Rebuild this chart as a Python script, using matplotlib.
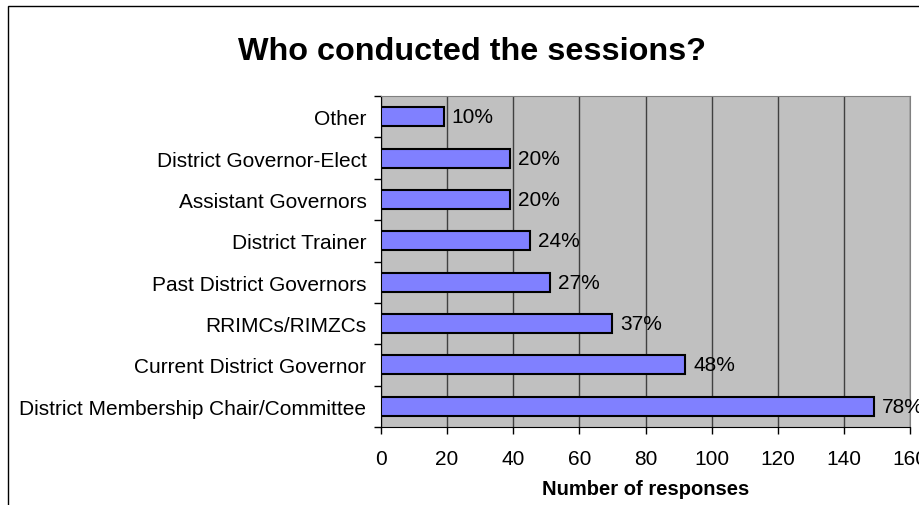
import numpy as np
import matplotlib
matplotlib.use('Agg')
import matplotlib.pyplot as plt
from matplotlib.patches import Rectangle
from matplotlib.ticker import MultipleLocator

plt.rcParams['font.family'] = ['Liberation Sans', 'DejaVu Sans']

# data, top to bottom as shown
categories = ['Other', 'District Governor-Elect', 'Assistant Governors', 'District Trainer',
              'Past District Governors', 'RRIMCs/RIMZCs', 'Current District Governor',
              'District Membership Chair/Committee']
responses = [19, 39, 39, 45, 51, 70, 92, 149]
pct_labels = ['10%', '20%', '20%', '24%', '27%', '37%', '48%', '78%']

fig = plt.figure(figsize=(9.2, 5.06), dpi=100)
ax = fig.add_axes([381 / 920, 1 - 428 / 506, 529 / 920, 331 / 506])

# outer chart border (runs off the canvas on the right and bottom)
fig.patches.append(Rectangle((8 / 920, -0.1), 1.2, 1 - 7 / 506 + 0.1, transform=fig.transFigure,
                             fill=False, edgecolor='black', linewidth=1.0))

y = np.arange(len(categories))
ax.set_facecolor('#c0c0c0')
ax.barh(y, responses, height=0.46, color='#8080ff', edgecolor='black', linewidth=1.5, zorder=3)
for yi, v, lab in zip(y, responses, pct_labels):
    ax.text(v + 2.4, yi, lab, va='center', ha='left', fontsize=15, zorder=4, clip_on=False)

ax.set_xlim(0, 160)
ax.set_ylim(len(categories) - 0.5, -0.5)
ax.xaxis.set_major_locator(MultipleLocator(20))
ax.grid(axis='x', color='#404040', linewidth=1.0, zorder=1)

ax.set_yticks(y)
ax.set_yticklabels(categories)
ax.set_yticks(np.arange(-0.5, len(categories), 1), minor=True)
ax.tick_params(axis='y', which='major', length=0, pad=10.5, labelsize=15)
ax.tick_params(axis='y', which='minor', length=5, width=1, color='black')
ax.tick_params(axis='x', length=5, width=1, pad=11, labelsize=15)

for side in ['top', 'right']:
    ax.spines[side].set_color('#808080')
for side in ['left', 'bottom']:
    ax.spines[side].set_color('black')

ax.set_xlabel('Number of responses', fontsize=14.5, fontweight='bold', labelpad=8)
fig.text(472 / 920, 1 - 52 / 506, 'Who conducted the sessions?', ha='center', va='center',
         fontsize=23.3, fontweight='bold')

fig.savefig('out.png', dpi=100)
